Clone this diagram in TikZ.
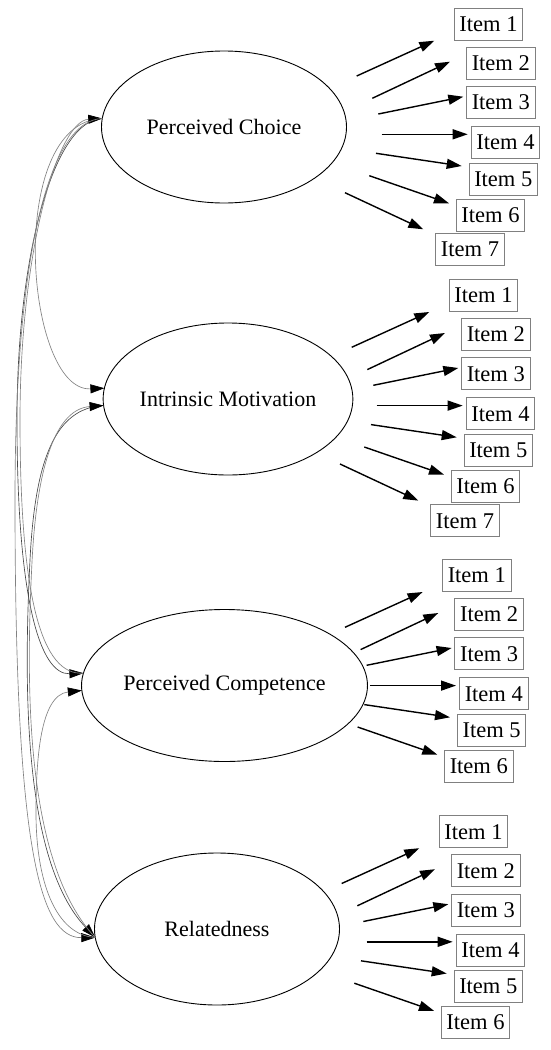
\documentclass[tikz,border=0pt]{standalone}
\usepackage{fontspec}
\setmainfont{Liberation Serif}
\usetikzlibrary{arrows.meta,shapes.geometric}
\definecolor{boxgray}{RGB}{128,128,128}
\definecolor{covdark}{RGB}{70,70,70}
\definecolor{covlight}{RGB}{130,130,130}
\begin{document}
\begin{tikzpicture}[x=1pt,y=-1pt,
  latent/.style={draw, line width=0.9pt, ellipse, minimum width=245pt, minimum height=152pt,
    inner sep=0pt, outer sep=0pt, font=\fontsize{22}{26}\selectfont},
  itembox/.style={draw=boxgray, line width=0.9pt, minimum width=68.5pt, minimum height=32pt,
    inner sep=0pt, outer sep=0pt, font=\fontsize{22.5}{26}\selectfont},
  load/.style={line width=1.4pt, -{Triangle[length=15pt,width=10pt]}},
  cov/.style={line width=0.65pt, -{Triangle[length=14pt,width=9pt,color=black,fill=black]}},
]
\useasboundingbox[fill=white] (0,0) rectangle (550,1050);

% latent variables
\node[latent] (E1) at (224,127) {Perceived Choice};
\node[latent] (E2) at (228,399) {Intrinsic Motivation};
\node[latent] (E3) at (224.5,685.5) {Perceived Competence};
\node[latent] (E4) at (217,929) {Relatedness};

% items and loading arrows
\foreach \g/\dx/\dy/\n in {1/0/0/7, 2/-5/271.3/7, 3/-11.7/551.3/6, 4/-15/807.5/6}{
  \begin{scope}[shift={(\dx,\dy)}]
    \foreach \k/\ix/\iy/\sx/\sy/\ex/\ey in {
      1/488.5/24.2/356.7/76/434.3/40.7,
      2/500.8/63.3/372.3/98.3/450/61.7,
      3/500.8/102.5/378.3/114/463.3/96.7,
      4/505.5/142.5/381.7/134.3/467.7/134.3,
      5/503.3/179/376/153.3/461.7/166,
      6/490.5/215/369.3/175.7/449/203.3,
      7/470/249.5/345/192.7/423.3/229.3}{
      \ifnum\k>\n\relax\else
        \node[itembox] (i\g-\k) at (\ix,\iy) {Item \k};
        \coordinate (s\g-\k) at (\sx,\sy);
        \coordinate (e\g-\k) at (\ex,\ey);
        \draw[load] (s\g-\k) -- (e\g-\k);
      \fi
    }
  \end{scope}
}

% covariance curves
\draw[cov, draw=covlight] (E1.176.4) .. controls (5,122) and (25,392) .. (E2.175.8);
\draw[cov, draw=covdark] (E1.176.4) .. controls (55,120) and (17,250) .. (17,420)
   .. controls (17,600) and (40,675) .. (E3.175.2);
\draw[cov, draw=covlight] (E3.175.2) .. controls (42,676) and (20,600) .. (20,420)
   .. controls (20,250) and (58,121) .. (E1.176.4);
\draw[cov, draw=covlight] (E1.176.4) .. controls (50,120) and (15,250) .. (15,500)
   .. controls (15,850) and (40,938) .. (E4.184.4);
\draw[cov, draw=covdark] (E2.183.3) .. controls (55,408) and (35,460) .. (30,560)
   .. controls (24,680) and (22,860) .. (E4.184.4);
\draw[cov, draw=covlight] (E4.184.4) .. controls (24,862) and (26,682) .. (32,562)
   .. controls (37,462) and (57,409) .. (E2.183.3);
\draw[cov, draw=covlight] (E4.184.4) .. controls (55,935) and (36,880) .. (36,813)
   .. controls (36,760) and (40,695) .. (E3.182.9);
\end{tikzpicture}
\end{document}
